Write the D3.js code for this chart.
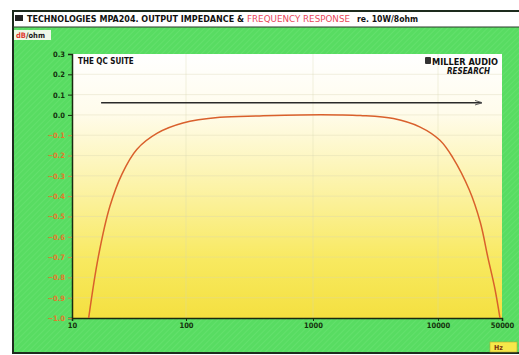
<!DOCTYPE html>
<html>
<head>
<meta charset="utf-8">
<script src="https://cdn.jsdelivr.net/npm/d3@7"></script>
<style>
  html, body { margin: 0; padding: 0; background: #ffffff; }
  svg { display: block; }
</style>
</head>
<body>
<div id="chart"></div>
<script>
// frequency response re. 10W/8ohm (dB)
const respFreq = [14, 17, 21.5, 27.5, 37, 56, 94, 185, 380, 790, 1650, 2400, 4400, 7200, 10500, 14500, 22000, 29000, 35000, 42000, 47500];
const respDb   = [-1.0, -0.70, -0.45, -0.29, -0.17, -0.09, -0.04, -0.012, -0.005, 0.0, 0.0, -0.003, -0.018, -0.06, -0.125, -0.21, -0.37, -0.53, -0.70, -0.86, -1.0];

// output impedance (ohm)
const impFreq = [18, 100, 1000, 10000, 30000];
const impOhm  = [0.06, 0.06, 0.06, 0.06, 0.06];

// axis ticks
const xTicks = [10, 100, 1000, 10000, 50000];
const xTickLabels = ["10", "100", "1000", "10000", "50000"];
const yTicks = [0.3, 0.2, 0.1, 0.0, -0.1, -0.2, -0.3, -0.4, -0.5, -0.6, -0.7, -0.8, -0.9, -1.0];

const W = 519, H = 355;
const plot = { left: 72, right: 502, top: 54, bottom: 318 };
const font = "'DejaVu Sans Condensed', 'DejaVu Sans', sans-serif";

const svg = d3.select("#chart").append("svg")
  .attr("width", W)
  .attr("height", H);

const defs = svg.append("defs");

// hatch texture of the green panel
const hatch = defs.append("pattern")
  .attr("id", "hatch")
  .attr("width", 4).attr("height", 4)
  .attr("patternUnits", "userSpaceOnUse")
  .attr("patternTransform", "rotate(45)");
hatch.append("rect").attr("width", 4).attr("height", 4).attr("fill", "#58dc62");
hatch.append("line").attr("x1", 0).attr("y1", 0).attr("x2", 0).attr("y2", 4)
  .attr("stroke", "#6ee476").attr("stroke-width", 1);

const grad = defs.append("linearGradient")
  .attr("id", "plotbg")
  .attr("x1", 0).attr("y1", 0).attr("x2", 0).attr("y2", 1);
grad.append("stop").attr("offset", "0%").attr("stop-color", "#ffffff");
grad.append("stop").attr("offset", "22%").attr("stop-color", "#fffcec");
grad.append("stop").attr("offset", "50%").attr("stop-color", "#fcf3a8");
grad.append("stop").attr("offset", "78%").attr("stop-color", "#f8e960");
grad.append("stop").attr("offset", "100%").attr("stop-color", "#f4e040");

const marker = defs.append("marker")
  .attr("id", "arrow")
  .attr("viewBox", "0 0 10 10")
  .attr("refX", 9).attr("refY", 5)
  .attr("markerWidth", 6).attr("markerHeight", 6)
  .attr("orient", "auto");
marker.append("path").attr("d", "M0,2 L10,5 L0,8").attr("fill", "none")
  .attr("stroke", "#555").attr("stroke-width", 1.2);

// panel + title bar
svg.append("rect")
  .attr("x", 13).attr("y", 27).attr("width", W - 13).attr("height", H - 29)
  .attr("fill", "url(#hatch)");
svg.append("path")
  .attr("d", "M" + W + ",11 H13 V" + (H - 2) + " H" + W)
  .attr("fill", "none").attr("stroke", "#1d2b1d").attr("stroke-width", 2);
svg.append("line")
  .attr("x1", 13).attr("x2", W).attr("y1", 27).attr("y2", 27)
  .attr("stroke", "#2a3a2a").attr("stroke-width", 1);

// title
const title = svg.append("g")
  .style("font-family", font)
  .style("font-weight", "bold")
  .style("font-size", "9px");
title.append("rect").attr("x", 15).attr("y", 15).attr("width", 8).attr("height", 6).attr("fill", "#222");
title.append("text").attr("x", 27).attr("y", 21.5)
  .attr("textLength", 217).attr("lengthAdjust", "spacingAndGlyphs")
  .attr("fill", "#111").text("TECHNOLOGIES MPA204. OUTPUT IMPEDANCE &");
title.append("text").attr("x", 247).attr("y", 21.5)
  .attr("textLength", 103).attr("lengthAdjust", "spacingAndGlyphs")
  .attr("fill", "#e8485a").style("font-weight", "normal").text("FREQUENCY RESPONSE");
title.append("text").attr("x", 357).attr("y", 21.5)
  .attr("textLength", 61).attr("lengthAdjust", "spacingAndGlyphs")
  .attr("fill", "#111").style("font-size", "8px").text("re. 10W/8ohm");

// units box
svg.append("rect").attr("x", 14).attr("y", 30).attr("width", 37).attr("height", 10)
  .attr("fill", "#eef8e8");
const unit = svg.append("text").attr("x", 16).attr("y", 38)
  .style("font-family", font).style("font-size", "7.5px").style("font-weight", "bold");
unit.append("tspan").attr("fill", "#e03a30").text("dB");
unit.append("tspan").attr("fill", "#1a1a1a").text("/ohm");

// plot background
svg.append("rect")
  .attr("x", plot.left).attr("y", plot.top)
  .attr("width", plot.right - plot.left).attr("height", plot.bottom - plot.top)
  .attr("fill", "url(#plotbg)");

// scales (log, piecewise per decade to follow the photographed grid)
const x = d3.scaleLog()
  .domain(xTicks)
  .range([72, 186, 313, 438, 502]);
const y = d3.scaleLinear()
  .domain([0.3, -1.0])
  .range([plot.top, plot.bottom]);

// faint grid
const grid = svg.append("g").attr("stroke", "#d8d4b0").attr("stroke-opacity", 0.45).attr("stroke-width", 0.8);
grid.selectAll("line.v").data(xTicks.slice(1, -1)).enter().append("line")
  .attr("x1", d => x(d)).attr("x2", d => x(d))
  .attr("y1", plot.top).attr("y2", plot.bottom);
grid.selectAll("line.h").data(yTicks.slice(1, -1)).enter().append("line")
  .attr("x1", plot.left).attr("x2", plot.right)
  .attr("y1", d => y(d)).attr("y2", d => y(d));

// axes
const yAxis = svg.append("g")
  .attr("transform", "translate(" + plot.left + ",0)")
  .call(d3.axisLeft(y).tickValues(yTicks).tickSize(4).tickPadding(3)
    .tickFormat(d => d3.format(".1f")(d)));
const xAxis = svg.append("g")
  .attr("transform", "translate(0," + plot.bottom + ")")
  .call(d3.axisBottom(x).tickValues(xTicks).tickSize(3).tickPadding(2)
    .tickFormat((d, i) => xTickLabels[i]));

[yAxis, xAxis].forEach(a => {
  a.select(".domain").attr("stroke", "#1a2a10").attr("stroke-width", 1.5);
  a.selectAll(".tick line").attr("stroke", "#1a2a10");
  a.selectAll("text")
    .style("font-family", font)
    .style("font-size", "7.5px")
    .style("font-weight", "bold")
    .attr("fill", "#14300c");
});
yAxis.selectAll(".tick text").attr("fill", d => d < 0 ? "#e07a2c" : "#14300c");
yAxis.selectAll(".tick line").attr("stroke", d => d < 0 ? "#d08a40" : "#1a2a10");

// impedance line
svg.append("path")
  .datum(impFreq.map((f, i) => [f, impOhm[i]]))
  .attr("fill", "none")
  .attr("stroke", "#2a2a2a")
  .attr("stroke-width", 1.3)
  .attr("marker-end", "url(#arrow)")
  .attr("d", d3.line().x(d => x(d[0])).y(d => y(d[1])));

// frequency response curve
svg.append("path")
  .datum(respFreq.map((f, i) => [f, respDb[i]]))
  .attr("fill", "none")
  .attr("stroke", "#d9602c")
  .attr("stroke-width", 1.5)
  .attr("d", d3.line().curve(d3.curveCatmullRom.alpha(0.5)).x(d => x(d[0])).y(d => y(d[1])));

// captions inside plot
svg.append("text").attr("x", 78).attr("y", 64)
  .style("font-family", font).style("font-size", "8px").style("font-weight", "bold")
  .attr("fill", "#111").text("THE QC SUITE");

svg.append("rect").attr("x", 425).attr("y", 57).attr("width", 6).attr("height", 7)
  .attr("fill", "#333").attr("rx", 1);
svg.append("text").attr("x", 432).attr("y", 64.5)
  .attr("textLength", 66).attr("lengthAdjust", "spacingAndGlyphs")
  .style("font-family", font).style("font-size", "8.5px").style("font-weight", "bold")
  .attr("fill", "#111").text("MILLER AUDIO");
svg.append("text").attr("x", 490).attr("y", 74)
  .attr("text-anchor", "end")
  .style("font-family", font).style("font-size", "8px").style("font-weight", "bold")
  .style("font-style", "italic")
  .attr("fill", "#111").text("RESEARCH");

// Hz box
svg.append("rect").attr("x", 490).attr("y", 342).attr("width", 27).attr("height", 10)
  .attr("fill", "#f6e84a").attr("stroke", "#b8a830").attr("stroke-width", 0.6);
svg.append("text").attr("x", 494).attr("y", 350)
  .style("font-family", font).style("font-size", "7px").style("font-weight", "bold")
  .attr("fill", "#7a3010").text("Hz");
</script>
</body>
</html>
